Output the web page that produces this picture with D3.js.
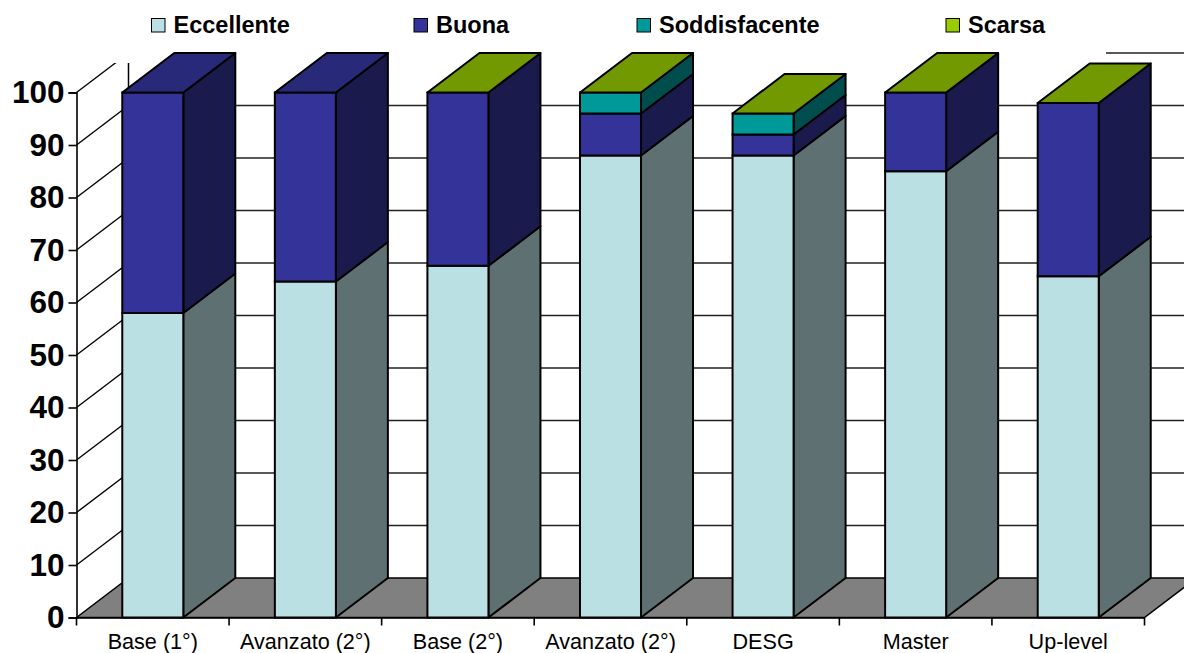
<!DOCTYPE html>
<html><head><meta charset="utf-8">
<script src="https://cdn.jsdelivr.net/npm/d3@7"></script>
<style>html,body{margin:0;padding:0;background:#fff}svg{display:block}text{font-family:"Liberation Sans",Arial,sans-serif}</style>
</head><body><svg id="c" width="1184" height="653"></svg>
<script>
const categories = ["Base (1°)","Avanzato (2°)","Base (2°)","Avanzato (2°)","DESG","Master","Up-level"];
const eccellente = [58,64,67,88,88,85,65];
const buona = [42,36,33,8,4,15,33];
const soddisfacente = [null,null,0,4,4,0,0];
const scarsa = [null,null,0,0,0,0,0];
const seriesNames = ["Eccellente","Buona","Soddisfacente","Scarsa"];
const yTicks = [0,10,20,30,40,50,60,70,80,90,100];

const seriesValues = [eccellente,buona,soddisfacente,scarsa];
const front = ["#BBE0E3","#333399","#009999","#99CC00"];
const side = ["#5E7072","#1A1A4D","#004D4D","#4D6600"];
const top_ = ["#8CA8AA","#29297A","#007373","#739900"];
const legendX = [151.5,414,637,946];
const DX = 52, DY = 39.5, STROKE = 2;

const svg = d3.select("#c");
const x = d3.scaleBand().domain(categories.map((d,i)=>i)).range([76.5,1144.5]);
const y = d3.scaleLinear().domain([0,100]).range([617.5,92.5]);
const barW = x.bandwidth()*0.4;
const poly = pts => pts.map(p=>p.join(",")).join(" ");

// walls and gridlines
const grid = svg.append("g");
grid.selectAll(".back").data(yTicks.slice(1)).join("line")
  .attr("x1",x.range()[0]+DX).attr("x2",1184)
  .attr("y1",d=>y(d)-DY).attr("y2",d=>y(d)-DY)
  .attr("stroke","#222").attr("stroke-width",1.4);
grid.selectAll(".diag").data(yTicks.slice(1)).join("line")
  .attr("x1",x.range()[0]).attr("x2",x.range()[0]+DX)
  .attr("y1",d=>y(d)).attr("y2",d=>y(d)-DY)
  .attr("stroke","#000").attr("stroke-width",1.4);
// white panel behind the legend hides the top of the wall
svg.append("rect").attr("x",0).attr("y",0).attr("width",1106).attr("height",63).attr("fill","#fff");
svg.append("rect").attr("x",0).attr("y",0).attr("width",1184).attr("height",52).attr("fill","#fff");
svg.append("line").attr("x1",x.range()[0]+DX).attr("x2",x.range()[0]+DX)
  .attr("y1",63).attr("y2",y(0)-DY).attr("stroke","#000").attr("stroke-width",1.5);

// floor
svg.append("polygon").attr("points",poly([[x.range()[0],y(0)],[x.range()[0]+DX,y(0)-DY],[x.range()[1]+DX,y(0)-DY],[x.range()[1],y(0)]]))
  .attr("fill","#808080").attr("stroke","#000").attr("stroke-width",1.5);

// bars
const bars = svg.append("g");
categories.forEach((c,i)=>{
  const x0 = x(i)+(x.bandwidth()-barW)/2, x1 = x0+barW;
  let cum = 0, lastS = 0;
  const g = bars.append("g");
  seriesValues.forEach((vals,s)=>{
    const v = vals[i];
    if (v===null) return;
    const ya = y(cum), yb = y(cum+v);
    if (v>0){
      g.append("polygon").attr("points",poly([[x1,ya],[x1+DX,ya-DY],[x1+DX,yb-DY],[x1,yb]]))
        .attr("fill",side[s]).attr("stroke","#000").attr("stroke-width",STROKE).attr("stroke-linejoin","round");
      g.append("rect").attr("x",x0).attr("y",yb).attr("width",barW).attr("height",ya-yb)
        .attr("fill",front[s]).attr("stroke","#000").attr("stroke-width",STROKE);
    }
    cum += v; lastS = s;
  });
  const yt = y(cum);
  g.append("polygon").attr("points",poly([[x0,yt],[x0+DX,yt-DY],[x1+DX,yt-DY],[x1,yt]]))
    .attr("fill",top_[lastS]).attr("stroke","#000").attr("stroke-width",STROKE).attr("stroke-linejoin","round");
});

// axes
const yAxis = d3.axisLeft(y).tickValues(yTicks).tickSize(8).tickPadding(4);
const yg = svg.append("g").attr("transform","translate(76.5,0)").call(yAxis);
yg.select(".domain").attr("stroke","#000").attr("stroke-width",1.6);
yg.selectAll(".tick line").attr("stroke","#000").attr("stroke-width",1.6);
yg.selectAll("text").attr("font-family","Liberation Sans").attr("font-size",31.5).attr("font-weight","bold").attr("fill","#000");

const xAxis = d3.axisBottom(x).tickFormat(i=>categories[i]).tickSize(0).tickPadding(16);
const xg = svg.append("g").attr("transform","translate(0,617.5)").call(xAxis);
xg.select(".domain").attr("stroke","#000").attr("stroke-width",1.6);
xg.selectAll("text").attr("font-family","Liberation Sans").attr("font-size",21.6).attr("fill","#000");
xg.selectAll(".sep").data(d3.range(8)).join("line").attr("class","sep")
  .attr("x1",i=>x.range()[0]+i*x.step()).attr("x2",i=>x.range()[0]+i*x.step())
  .attr("y1",0).attr("y2",8).attr("stroke","#000").attr("stroke-width",1.6);

// legend
const lg = svg.append("g");
seriesNames.forEach((n,i)=>{
  lg.append("rect").attr("x",legendX[i]).attr("y",18.5).attr("width",13.5).attr("height",13.5)
    .attr("fill",front[i]).attr("stroke","#000").attr("stroke-width",1);
  lg.append("text").attr("x",legendX[i]+22).attr("y",33).attr("font-size",23.5).attr("font-weight","bold").attr("fill","#000").text(n);
});
</script></body></html>
